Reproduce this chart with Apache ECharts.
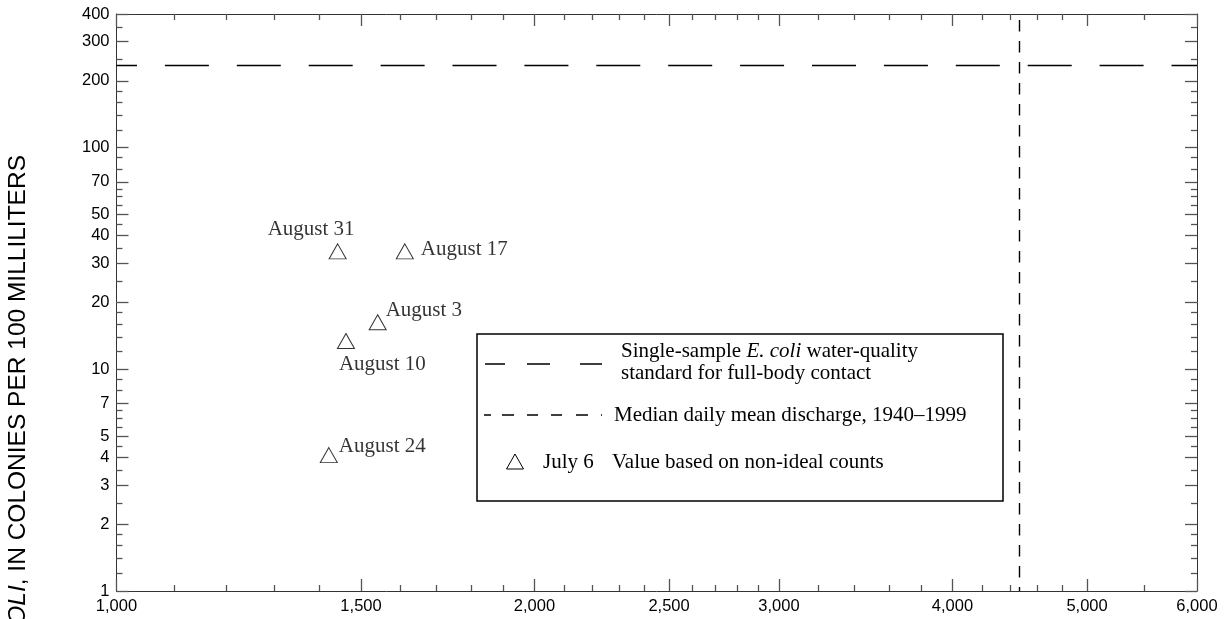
<!DOCTYPE html>
<html><head><meta charset="utf-8">
<script src="https://cdn.jsdelivr.net/npm/echarts@6/dist/echarts.min.js"></script>
<style>html,body{margin:0;padding:0;background:#fff}#c{width:1228px;height:619px}</style>
</head><body><div id="c"></div>
<script>
// ---- data ----
const sampleNames = ['August 3', 'August 10', 'August 17', 'August 24', 'August 31'];
const discharge = [1542, 1463, 1613, 1422, 1443];      // cubic feet per second
const ecoli = [16.3, 13.4, 34, 4.1, 34];               // colonies per 100 mL
const standardValue = 235;                             // single-sample standard
const medianDischarge = 4470;                          // median daily mean discharge 1940-1999

const xMajorTicks = [1000, 1500, 2000, 2500, 3000, 4000, 5000, 6000];
const xTickLabels = ['1,000', '1,500', '2,000', '2,500', '3,000', '4,000', '5,000', '6,000'];
const xMinorTicks = [1100, 1200, 1300, 1400, 1600, 1700, 1800, 1900, 2100, 2200, 2300, 2400,
  2600, 2700, 2800, 2900, 3200, 3400, 3600, 3800, 4200, 4400, 4600, 4800, 5500];
const yMajorTicks = [1, 2, 3, 4, 5, 7, 10, 20, 30, 40, 50, 70, 100, 200, 300, 400];
const yTickLabels = ['1', '2', '3', '4', '5', '7', '10', '20', '30', '40', '50', '70', '100', '200', '300', '400'];
const yMinorTicks = [1.2, 1.4, 1.6, 1.8, 2.5, 3.5, 4.5, 5.5, 6, 6.5, 8, 9, 12, 14, 16, 18, 25, 35, 45,
  55, 60, 65, 80, 90, 120, 140, 160, 180, 250, 350];

// label placement (styling, kept apart from the data)
const labelOffsets = [[8, -12], [-7, 23], [16, -2], [10, -9], [-70, -22]];

// ---- chart ----
const SANS = '"Liberation Sans", Arial, sans-serif';
const SERIF = '"Liberation Serif", "Times New Roman", serif';
const AX = '#333';
const TK = '#555';

function lookup(vals, labels, v) {
  for (let i = 0; i < vals.length; i++) if (Math.abs(vals[i] - v) / vals[i] < 1e-6) return labels[i];
  return '';
}

function xAx(position, ticks, len, withLabels, withLine) {
  return {
    type: 'log', logBase: 10, min: 1000, max: 6000, position: position, gridIndex: 0,
    axisLine: { show: withLine, lineStyle: { color: AX, width: 1 } },
    axisTick: { show: true, inside: true, length: len, customValues: ticks, lineStyle: { color: TK, width: 1.3 } },
    axisLabel: withLabels ? {
      show: true, customValues: ticks, margin: 7, color: '#000', fontFamily: SANS, fontSize: 16.5,
      formatter: v => lookup(xMajorTicks, xTickLabels, v)
    } : { show: false },
    splitLine: { show: false }, minorTick: { show: false }
  };
}
function yAx(position, ticks, len, withLabels, withLine) {
  return {
    type: 'log', logBase: 10, min: 1, max: 400, position: position, gridIndex: 0,
    axisLine: { show: withLine, lineStyle: { color: AX, width: 1 } },
    axisTick: { show: true, inside: true, length: len, customValues: ticks, lineStyle: { color: TK, width: 1.3 } },
    axisLabel: withLabels ? {
      show: true, customValues: ticks, margin: 7, color: '#000', fontFamily: SANS, fontSize: 16.5,
      formatter: v => lookup(yMajorTicks, yTickLabels, v)
    } : { show: false },
    splitLine: { show: false }, minorTick: { show: false }
  };
}

const points = sampleNames.map((n, i) => ({
  name: n,
  value: [discharge[i], ecoli[i]],
  label: { offset: labelOffsets[i] }
}));

const chart = echarts.init(document.getElementById('c'), null, { renderer: 'canvas' });
chart.setOption({
  animation: false,
  backgroundColor: '#fff',
  grid: { left: 116.5, right: 31, top: 14, bottom: 28, containLabel: false },
  xAxis: [
    xAx('bottom', xMajorTicks, 12, true, true),
    xAx('bottom', xMinorTicks, 6, false, false),
    xAx('top', xMajorTicks, 12, false, true),
    xAx('top', xMinorTicks, 6, false, false)
  ],
  yAxis: [
    yAx('left', yMajorTicks, 12, true, true),
    yAx('left', yMinorTicks, 6, false, false),
    yAx('right', yMajorTicks, 12, false, true),
    yAx('right', yMinorTicks, 6, false, false)
  ],
  series: [{
    type: 'scatter', xAxisIndex: 0, yAxisIndex: 0,
    symbol: 'triangle', symbolSize: [17, 15],
    itemStyle: { color: '#fff', borderColor: '#000', borderWidth: 1 },
    label: {
      show: true, formatter: p => p.name, position: 'inside', align: 'left', verticalAlign: 'middle',
      color: '#000', fontFamily: SERIF, fontSize: 21
    },
    emphasis: { disabled: true },
    data: points,
    markLine: {
      silent: true, symbol: ['none', 'none'], label: { show: false }, animation: false,
      data: [
        { yAxis: standardValue, lineStyle: { color: '#000', width: 1.4, type: [44, 27.9], dashOffset: 23.5 } },
        { xAxis: medianDischarge, lineStyle: { color: '#000', width: 1.4, type: [11.5, 9.5], dashOffset: 7.5 } }
      ]
    }
  }],
  graphic: [
    {
      type: 'text', x: 18, y: 155, rotation: Math.PI / 2,
      style: {
        text: '{i|E. COLI}, IN COLONIES PER 100 MILLILITERS',
        fontFamily: SANS, fontSize: 24.5, fill: '#000',
        align: 'right', verticalAlign: 'middle', textAlign: 'right', textVerticalAlign: 'middle',
        rich: { i: { fontStyle: 'italic', fontFamily: SANS, fontSize: 24.5, fill: '#000' } }
      }
    },
    // legend box
    { type: 'rect', shape: { x: 477, y: 334, width: 526, height: 167 }, style: { fill: '#fff', stroke: '#000', lineWidth: 1.5 }, z: 50 },
    { type: 'line', shape: { x1: 485, y1: 364, x2: 602, y2: 364 }, style: { stroke: '#000', lineWidth: 1.4, lineDash: [20, 22, 23, 30, 22, 100] }, z: 51 },
    { type: 'text', x: 621, y: 351, z: 51, style: {
        text: 'Single-sample {i|E. coli} water-quality', fontFamily: SERIF, fontSize: 21, fill: '#000',
        verticalAlign: 'middle', textVerticalAlign: 'middle',
        rich: { i: { fontStyle: 'italic', fontFamily: SERIF, fontSize: 21, fill: '#000' } } } },
    { type: 'text', x: 621, y: 373, z: 51, style: {
        text: 'standard for full-body contact', fontFamily: SERIF, fontSize: 21, fill: '#000',
        verticalAlign: 'middle', textVerticalAlign: 'middle' } },
    { type: 'line', shape: { x1: 484, y1: 415, x2: 602, y2: 415 }, style: { stroke: '#000', lineWidth: 1.4, lineDash: [7, 11, 12, 13, 11, 13, 11, 14, 12, 13, 11, 11, 6, 100] }, z: 51 },
    { type: 'text', x: 614, y: 415, z: 51, style: {
        text: 'Median daily mean discharge, 1940\u20131999', fontFamily: SERIF, fontSize: 21, fill: '#000',
        verticalAlign: 'middle', textVerticalAlign: 'middle' } },
    { type: 'polygon', shape: { points: [[515, 454], [523.5, 469], [506.5, 469]] }, style: { fill: '#fff', stroke: '#000', lineWidth: 1 }, z: 51 },
    { type: 'text', x: 543, y: 462, z: 51, style: {
        text: 'July 6', fontFamily: SERIF, fontSize: 21, fill: '#000', verticalAlign: 'middle', textVerticalAlign: 'middle' } },
    { type: 'text', x: 612, y: 462, z: 51, style: {
        text: 'Value based on non-ideal counts', fontFamily: SERIF, fontSize: 21, fill: '#000', verticalAlign: 'middle', textVerticalAlign: 'middle' } }
  ]
});
</script>
</body></html>
